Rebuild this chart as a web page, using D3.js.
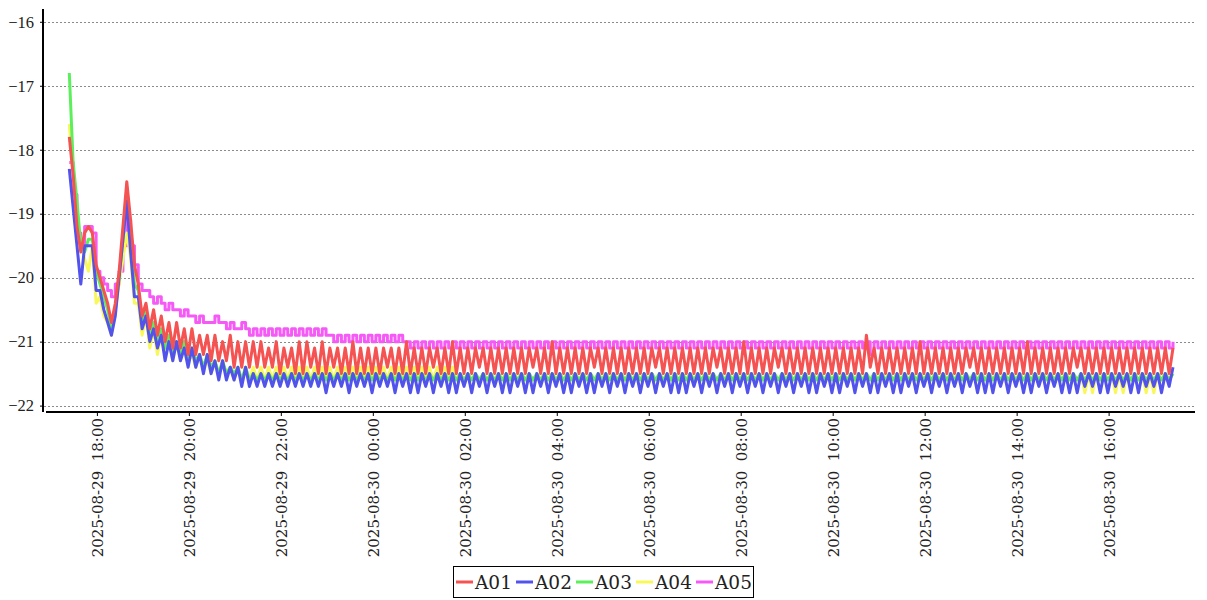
<!DOCTYPE html>
<html><head><meta charset="utf-8">
<script src="https://cdn.jsdelivr.net/npm/d3@7"></script>
<style>body{margin:0;background:#fff}</style>
</head><body>
<svg id="chart" width="1207" height="600"></svg>
<script>
// ---------- data ----------
const seriesNames = ["A01", "A02", "A03", "A04", "A05"];
const seriesColors = ["#f55252", "#5252ec", "#5cef5c", "#f8f85a", "#f65af6"];
const startTime = "2025-08-29T17:24:00";
const stepMinutes = 5;
const yTickValues = [-22, -21, -20, -19, -18, -17, -16];

const A01 = [
  -17.8,-18.4,-19.2,-19.6,-19.3,-19.2,-19.3,-19.8,-20.0,-20.2,-20.4,-20.7,-20.4,-19.9,-19.2,-18.5,-19.1,-19.8,-20.1,
  -20.6,-20.4,-20.8,-20.5,-20.9,-20.6,-21.0,-20.7,-21.1,-20.7,-21.1,-20.8,-21.2,-20.8,-21.2,-20.9,-21.2,-20.9,-21.3,-20.9,-21.3,
  -21.0,-21.3,-20.9,-21.4,-21.0,-21.4,-21.0,-21.4,-21.0,-21.4,-21.0,-21.4,-21.1,-21.4,-21.0,-21.5,-21.1,-21.4,-21.1,-21.5,-21.0,
  -21.5,-21.0,-21.4,-21.1,-21.5,-21.0,-21.5,-21.1,-21.4,-21.1,
  -21.5,-21.1,-21.5,-21.0,-21.5,-21.1,-21.5,-21.1,-21.5,-21.1,
  -21.5,-21.1,-21.4,-21.1,-21.5,-21.1,-21.5,-21.0,-21.5,-21.1,
  -21.5,-21.1,-21.5,-21.1,-21.4,-21.1,-21.5,-21.1,-21.5,-21.0,
  -21.5,-21.1,-21.5,-21.1,-21.5,-21.1,-21.4,-21.1,-21.5,-21.1,
  -21.5,-21.1,-21.5,-21.1,-21.5,-21.1,-21.5,-21.1,-21.5,-21.1,
  -21.4,-21.1,-21.5,-21.1,-21.5,-21.0,-21.5,-21.1,-21.5,-21.1,
  -21.5,-21.1,-21.5,-21.1,-21.5,-21.1,-21.4,-21.1,-21.5,-21.1,
  -21.5,-21.1,-21.5,-21.1,-21.5,-21.1,-21.5,-21.1,-21.5,-21.1,
  -21.5,-21.1,-21.4,-21.1,-21.5,-21.1,-21.5,-21.1,-21.5,-21.1,
  -21.5,-21.1,-21.5,-21.1,-21.5,-21.1,-21.5,-21.1,-21.4,-21.1,
  -21.5,-21.1,-21.5,-21.1,-21.5,-21.0,-21.5,-21.1,-21.5,-21.1,
  -21.5,-21.1,-21.5,-21.1,-21.4,-21.1,-21.5,-21.1,-21.5,-21.1,
  -21.5,-21.1,-21.5,-21.1,-21.5,-21.1,-21.5,-21.1,-21.5,-21.1,
  -21.5,-21.1,-21.5,-21.1,-21.5,-21.1,-21.5,-20.9,-21.4,-21.1,
  -21.5,-21.1,-21.5,-21.1,-21.5,-21.1,-21.5,-21.1,-21.5,-21.1,
  -21.5,-21.0,-21.5,-21.1,-21.5,-21.1,-21.5,-21.1,-21.5,-21.1,
  -21.5,-21.1,-21.5,-21.1,-21.4,-21.1,-21.5,-21.1,-21.5,-21.1,
  -21.5,-21.1,-21.5,-21.1,-21.5,-21.1,-21.5,-21.1,-21.5,-21.0,
  -21.5,-21.1,-21.5,-21.1,-21.5,-21.1,-21.5,-21.1,-21.5,-21.1,
  -21.5,-21.1,-21.4,-21.1,-21.5,-21.1,-21.5,-21.1,-21.5,-21.1,
  -21.5,-21.1,-21.5,-21.1,-21.5,-21.1,-21.5,-21.1,-21.5,-21.1,
  -21.5,-21.1,-21.5,-21.1,-21.5,-21.1,-21.5,-21.1
];

const A02 = [
  -18.3,-18.9,-19.5,-20.1,-19.5,-19.5,-19.5,-20.2,-20.2,-20.5,-20.7,-20.9,-20.6,-20.0,-19.4,-18.8,-19.6,-20.3,-20.3,
  -20.8,-20.6,-21.0,-20.8,-21.1,-20.9,-21.3,-21.0,-21.3,-21.0,-21.3,-21.1,-21.4,-21.1,-21.4,-21.2,-21.5,-21.2,-21.5,-21.3,-21.6,
  -21.3,-21.6,-21.4,-21.6,-21.4,-21.7,-21.4,-21.7,-21.5,-21.7,-21.5,-21.7,-21.5,-21.7,-21.5,-21.7,-21.5,-21.7,-21.5,-21.7,-21.5,
  -21.7,-21.5,-21.7,-21.5,-21.7,-21.5,-21.8,-21.5,-21.7,-21.5,
  -21.7,-21.5,-21.8,-21.5,-21.7,-21.5,-21.7,-21.5,-21.8,-21.5,
  -21.7,-21.5,-21.7,-21.5,-21.8,-21.5,-21.7,-21.5,-21.8,-21.5,
  -21.8,-21.5,-21.7,-21.5,-21.8,-21.5,-21.7,-21.5,-21.8,-21.5,
  -21.8,-21.5,-21.7,-21.5,-21.8,-21.5,-21.7,-21.5,-21.8,-21.5,
  -21.7,-21.5,-21.8,-21.5,-21.8,-21.5,-21.7,-21.5,-21.8,-21.5,
  -21.8,-21.5,-21.7,-21.5,-21.8,-21.5,-21.7,-21.5,-21.8,-21.5,
  -21.8,-21.5,-21.7,-21.5,-21.8,-21.5,-21.8,-21.5,-21.7,-21.5,
  -21.8,-21.5,-21.7,-21.5,-21.8,-21.5,-21.7,-21.5,-21.8,-21.5,
  -21.7,-21.5,-21.8,-21.5,-21.7,-21.5,-21.8,-21.5,-21.8,-21.5,
  -21.8,-21.5,-21.7,-21.5,-21.8,-21.5,-21.7,-21.5,-21.8,-21.5,
  -21.7,-21.5,-21.8,-21.5,-21.7,-21.5,-21.8,-21.5,-21.7,-21.5,
  -21.8,-21.5,-21.7,-21.5,-21.8,-21.5,-21.7,-21.5,-21.8,-21.5,
  -21.7,-21.5,-21.8,-21.5,-21.8,-21.5,-21.7,-21.5,-21.8,-21.5,
  -21.8,-21.5,-21.7,-21.5,-21.8,-21.5,-21.7,-21.5,-21.8,-21.5,
  -21.8,-21.5,-21.7,-21.5,-21.8,-21.5,-21.8,-21.5,-21.7,-21.5,
  -21.8,-21.5,-21.7,-21.5,-21.8,-21.5,-21.7,-21.5,-21.8,-21.5,
  -21.7,-21.5,-21.8,-21.5,-21.7,-21.5,-21.8,-21.5,-21.8,-21.5,
  -21.8,-21.5,-21.7,-21.5,-21.8,-21.5,-21.7,-21.5,-21.8,-21.5,
  -21.8,-21.5,-21.7,-21.5,-21.8,-21.5,-21.7,-21.5,-21.8,-21.5,
  -21.8,-21.5,-21.8,-21.5,-21.7,-21.5,-21.7,-21.5,-21.8,-21.5,
  -21.8,-21.5,-21.7,-21.5,-21.7,-21.5,-21.8,-21.5,-21.8,-21.5,
  -21.7,-21.5,-21.7,-21.5,-21.8,-21.5,-21.7,-21.4
];

const A03 = [
  -16.8,-18.2,-18.8,-19.5,-19.6,-19.4,-19.4,-19.9,-20.1,-20.3,-20.5,-20.8,-20.5,-20.0,-19.4,-18.7,-19.3,-20.1,-20.2,
  -20.7,-20.5,-20.9,-20.7,-21.0,-20.8,-21.1,-20.9,-21.2,-21.0,-21.2,-21.0,-21.3,-21.1,-21.3,-21.2,-21.4,-21.2,-21.4,-21.3,-21.5,
  -21.3,-21.5,-21.4,-21.5,-21.4,-21.6,-21.4,-21.6,-21.5,-21.6,-21.5,-21.6,-21.5,-21.6,-21.5,-21.6,-21.5,-21.6,-21.5,-21.6,-21.5,
  -21.6,-21.5,-21.6,-21.5,-21.6,-21.5,-21.6,-21.5,-21.6,-21.5,
  -21.6,-21.5,-21.6,-21.5,-21.6,-21.5,-21.6,-21.5,-21.6,-21.5,
  -21.6,-21.5,-21.6,-21.5,-21.6,-21.5,-21.6,-21.5,-21.6,-21.5,
  -21.6,-21.5,-21.6,-21.5,-21.6,-21.5,-21.6,-21.5,-21.6,-21.5,
  -21.6,-21.5,-21.6,-21.5,-21.6,-21.5,-21.6,-21.5,-21.6,-21.5,
  -21.6,-21.5,-21.6,-21.5,-21.6,-21.5,-21.6,-21.5,-21.6,-21.5,
  -21.6,-21.5,-21.6,-21.5,-21.6,-21.5,-21.6,-21.5,-21.6,-21.5,
  -21.6,-21.5,-21.6,-21.5,-21.6,-21.5,-21.6,-21.5,-21.6,-21.5,
  -21.6,-21.5,-21.6,-21.5,-21.6,-21.5,-21.6,-21.5,-21.6,-21.5,
  -21.6,-21.5,-21.6,-21.5,-21.6,-21.5,-21.6,-21.5,-21.6,-21.5,
  -21.6,-21.5,-21.6,-21.5,-21.6,-21.5,-21.6,-21.5,-21.6,-21.5,
  -21.6,-21.5,-21.6,-21.5,-21.6,-21.5,-21.6,-21.5,-21.6,-21.5,
  -21.6,-21.5,-21.6,-21.5,-21.6,-21.5,-21.6,-21.5,-21.6,-21.5,
  -21.6,-21.5,-21.6,-21.5,-21.6,-21.5,-21.6,-21.5,-21.6,-21.5,
  -21.6,-21.5,-21.6,-21.5,-21.6,-21.5,-21.6,-21.5,-21.6,-21.5,
  -21.6,-21.5,-21.6,-21.5,-21.6,-21.5,-21.6,-21.5,-21.6,-21.5,
  -21.6,-21.5,-21.6,-21.5,-21.6,-21.5,-21.6,-21.5,-21.6,-21.5,
  -21.6,-21.5,-21.6,-21.5,-21.6,-21.5,-21.6,-21.5,-21.6,-21.5,
  -21.6,-21.5,-21.6,-21.5,-21.6,-21.5,-21.6,-21.5,-21.6,-21.5,
  -21.6,-21.5,-21.6,-21.5,-21.6,-21.5,-21.6,-21.5,-21.6,-21.5,
  -21.6,-21.5,-21.6,-21.5,-21.6,-21.5,-21.6,-21.5,-21.6,-21.5,
  -21.6,-21.5,-21.6,-21.5,-21.6,-21.5,-21.6,-21.5,-21.6,-21.5,
  -21.6,-21.5,-21.6,-21.5,-21.6,-21.5,-21.6,-21.5
];

const A04 = [
  -17.6,-18.4,-19.0,-19.5,-19.7,-19.9,-19.5,-20.4,-20.3,-20.6,-20.7,-20.9,-20.5,-20.1,-19.7,-19.3,-19.7,-20.4,-20.4,
  -20.9,-20.6,-21.1,-20.8,-21.2,-20.9,-21.2,-21.0,-21.3,-21.0,-21.3,-21.1,-21.3,-21.2,-21.4,-21.2,-21.4,-21.3,-21.5,-21.3,-21.5,
  -21.3,-21.5,-21.4,-21.6,-21.4,-21.6,-21.4,-21.6,-21.4,-21.6,-21.4,-21.6,-21.4,-21.6,-21.4,-21.6,-21.4,-21.6,-21.4,-21.6,-21.4,
  -21.6,-21.4,-21.6,-21.4,-21.6,-21.4,-21.6,-21.4,-21.6,-21.4,
  -21.6,-21.4,-21.6,-21.4,-21.6,-21.4,-21.6,-21.4,-21.6,-21.4,
  -21.6,-21.4,-21.6,-21.4,-21.6,-21.4,-21.6,-21.4,-21.6,-21.4,
  -21.6,-21.4,-21.6,-21.4,-21.6,-21.4,-21.6,-21.4,-21.6,-21.4,
  -21.6,-21.5,-21.6,-21.5,-21.6,-21.5,-21.6,-21.5,-21.6,-21.5,
  -21.6,-21.5,-21.6,-21.5,-21.6,-21.5,-21.6,-21.5,-21.6,-21.5,
  -21.6,-21.5,-21.6,-21.5,-21.6,-21.5,-21.6,-21.5,-21.6,-21.5,
  -21.6,-21.5,-21.6,-21.5,-21.6,-21.5,-21.6,-21.5,-21.6,-21.5,
  -21.6,-21.5,-21.6,-21.5,-21.6,-21.5,-21.6,-21.5,-21.6,-21.5,
  -21.6,-21.5,-21.6,-21.5,-21.6,-21.5,-21.6,-21.5,-21.6,-21.5,
  -21.6,-21.5,-21.6,-21.5,-21.6,-21.5,-21.6,-21.5,-21.6,-21.5,
  -21.6,-21.5,-21.6,-21.5,-21.6,-21.5,-21.6,-21.5,-21.6,-21.5,
  -21.6,-21.5,-21.6,-21.5,-21.6,-21.5,-21.6,-21.5,-21.6,-21.5,
  -21.6,-21.5,-21.6,-21.5,-21.6,-21.5,-21.6,-21.5,-21.6,-21.5,
  -21.6,-21.5,-21.6,-21.5,-21.6,-21.5,-21.6,-21.5,-21.6,-21.5,
  -21.6,-21.5,-21.6,-21.5,-21.6,-21.5,-21.6,-21.5,-21.6,-21.5,
  -21.6,-21.5,-21.6,-21.5,-21.6,-21.5,-21.6,-21.5,-21.6,-21.5,
  -21.6,-21.5,-21.6,-21.5,-21.6,-21.5,-21.6,-21.5,-21.6,-21.5,
  -21.6,-21.5,-21.6,-21.5,-21.6,-21.5,-21.6,-21.5,-21.6,-21.5,
  -21.6,-21.5,-21.6,-21.5,-21.6,-21.5,-21.6,-21.5,-21.6,-21.5,
  -21.6,-21.5,-21.6,-21.5,-21.8,-21.5,-21.8,-21.5,-21.6,-21.5,
  -21.6,-21.5,-21.8,-21.5,-21.8,-21.5,-21.6,-21.5,-21.6,-21.5,
  -21.8,-21.5,-21.8,-21.5,-21.6,-21.5,-21.6,-21.5
];

const A05 = [
  -18.2,-18.7,-19.3,-19.5,-19.2,-19.2,-19.3,-19.9,-20.0,-20.1,-20.2,-20.3,-20.1,-19.9,-19.5,-19.1,-19.5,-19.8,-20.1,
  -20.2,-20.2,-20.3,-20.4,-20.3,-20.4,-20.5,-20.4,-20.5,-20.5,-20.6,-20.5,-20.6,-20.6,-20.7,-20.6,-20.7,-20.7,-20.7,-20.6,-20.7,
  -20.7,-20.8,-20.7,-20.8,-20.8,-20.7,-20.8,-20.9,-20.8,-20.9,-20.8,-20.9,-20.8,-20.9,-20.8,-20.9,-20.8,-20.9,-20.8,-20.9,-20.8,
  -20.9,-20.8,-20.9,-20.8,-20.9,-20.8,-20.9,-20.9,-21.0,-20.9,
  -21.0,-20.9,-21.0,-20.9,-21.0,-20.9,-21.0,-20.9,-21.0,-20.9,
  -21.0,-20.9,-21.0,-20.9,-21.0,-20.9,-21.0,-21.0,-21.1,-21.0,
  -21.1,-21.0,-21.1,-21.0,-21.1,-21.0,-21.1,-21.0,-21.1,-21.0,
  -21.1,-21.0,-21.1,-21.0,-21.1,-21.0,-21.1,-21.0,-21.1,-21.0,
  -21.1,-21.0,-21.1,-21.0,-21.1,-21.0,-21.1,-21.0,-21.1,-21.0,
  -21.1,-21.0,-21.1,-21.0,-21.1,-21.0,-21.1,-21.0,-21.1,-21.0,
  -21.1,-21.0,-21.1,-21.0,-21.1,-21.0,-21.1,-21.0,-21.1,-21.0,
  -21.1,-21.0,-21.1,-21.0,-21.1,-21.0,-21.1,-21.0,-21.1,-21.0,
  -21.1,-21.0,-21.1,-21.0,-21.1,-21.0,-21.1,-21.0,-21.1,-21.0,
  -21.1,-21.0,-21.1,-21.0,-21.1,-21.0,-21.1,-21.0,-21.1,-21.0,
  -21.1,-21.0,-21.1,-21.0,-21.1,-21.0,-21.1,-21.0,-21.1,-21.0,
  -21.1,-21.0,-21.1,-21.0,-21.1,-21.0,-21.1,-21.0,-21.1,-21.0,
  -21.1,-21.0,-21.1,-21.0,-21.1,-21.0,-21.1,-21.0,-21.1,-21.0,
  -21.1,-21.0,-21.1,-21.0,-21.1,-21.0,-21.1,-21.0,-21.2,-21.0,
  -21.1,-21.0,-21.1,-21.0,-21.1,-21.0,-21.1,-21.0,-21.1,-21.0,
  -21.1,-21.0,-21.1,-21.0,-21.1,-21.0,-21.1,-21.0,-21.1,-21.0,
  -21.1,-21.0,-21.1,-21.0,-21.1,-21.0,-21.1,-21.0,-21.1,-21.0,
  -21.1,-21.0,-21.1,-21.0,-21.1,-21.0,-21.1,-21.0,-21.1,-21.0,
  -21.1,-21.0,-21.1,-21.0,-21.1,-21.0,-21.1,-21.0,-21.1,-21.0,
  -21.1,-21.0,-21.1,-21.0,-21.1,-21.0,-21.1,-21.0,-21.1,-21.0,
  -21.1,-21.0,-21.1,-21.0,-21.1,-21.0,-21.1,-21.0,-21.1,-21.0,
  -21.1,-21.0,-21.1,-21.0,-21.1,-21.0,-21.1,-21.0
];

const seriesValues = [A01, A02, A03, A04, A05];

// ---------- drawing ----------
const svg = d3.select("#chart");
const t0 = new Date(startTime);
const tEnd = d3.timeMinute.offset(t0, 24 * 60);

const x = d3.scaleTime().domain([t0, tEnd]).range([69.3, 1173]);
const y = d3.scaleLinear().domain([-22.1, -15.8]).range([412, 9]);

// grid lines
svg.append("g").selectAll("line").data(yTickValues).join("line")
  .attr("x1", 44).attr("x2", 1195)
  .attr("y1", d => Math.round(y(d)) + 0.5).attr("y2", d => Math.round(y(d)) + 0.5)
  .attr("stroke", "#8a8a8a").attr("stroke-width", 1).attr("stroke-dasharray", "2,2");

// y axis
const yAxis = d3.axisLeft(y).tickValues(yTickValues).tickSize(3).tickPadding(6)
  .tickFormat(d3.format("d"));
const gy = svg.append("g").attr("transform", "translate(43,0)").call(yAxis);
gy.select(".domain").remove();
gy.append("line").attr("x1", 0).attr("x2", 0).attr("y1", 9).attr("y2", 412)
  .attr("stroke", "#000").attr("stroke-width", 2);
gy.selectAll(".tick line").attr("stroke", "#000");
gy.selectAll(".tick text").attr("font-family", "Liberation Serif, serif")
  .attr("font-size", 16.5).attr("fill", "#222");

// x axis
const xAxis = d3.axisBottom(x).ticks(d3.timeHour.every(2)).tickSize(4).tickPadding(6)
  .tickFormat(d3.timeFormat("%Y-%m-%d  %H:%M"));
const gx = svg.append("g").attr("transform", "translate(0,412)").call(xAxis);
gx.select(".domain").remove();
gx.append("line").attr("x1", 46).attr("x2", 1195).attr("y1", 0).attr("y2", 0)
  .attr("stroke", "#000").attr("stroke-width", 2);
gx.selectAll(".tick line").attr("stroke", "#000");
gx.selectAll(".tick text")
  .attr("font-family", "DejaVu Serif, serif")
  .attr("font-size", 15).attr("fill", "#222")
  .attr("text-anchor", "end")
  .attr("transform", "rotate(-90)")
  .attr("x", -6).attr("y", 0).attr("dy", "0.36em")
  .style("white-space", "pre")
  .attr("xml:space", "preserve");

// series lines (A05 at the bottom, A01 on top)
const order = [4, 3, 2, 1, 0];
order.forEach(k => {
  const vals = seriesValues[k];
  const line = d3.line()
    .x((d, i) => x(d3.timeMinute.offset(t0, i * stepMinutes)))
    .y(d => y(d))
    .curve(k === 4 ? d3.curveStepAfter : d3.curveLinear);
  svg.append("path")
    .datum(vals)
    .attr("d", line)
    .attr("fill", "none")
    .attr("stroke", seriesColors[k])
    .attr("stroke-width", 3)
    .attr("stroke-linejoin", "round")
    .attr("stroke-linecap", "butt");
});

// legend
const lg = svg.append("g");
lg.append("rect").attr("x", 453.5).attr("y", 566.5).attr("width", 300).attr("height", 31)
  .attr("fill", "#fff").attr("stroke", "#000").attr("stroke-width", 1);
seriesNames.forEach((name, k) => {
  const lx = 456 + k * 60;
  lg.append("line").attr("x1", lx).attr("x2", lx + 17).attr("y1", 582).attr("y2", 582)
    .attr("stroke", seriesColors[k]).attr("stroke-width", 3);
  lg.append("text").attr("x", lx + 19).attr("y", 588.5)
    .attr("font-family", "DejaVu Serif, serif").attr("font-size", 18.5)
    .attr("fill", "#222").text(name);
});
</script>
</body></html>
